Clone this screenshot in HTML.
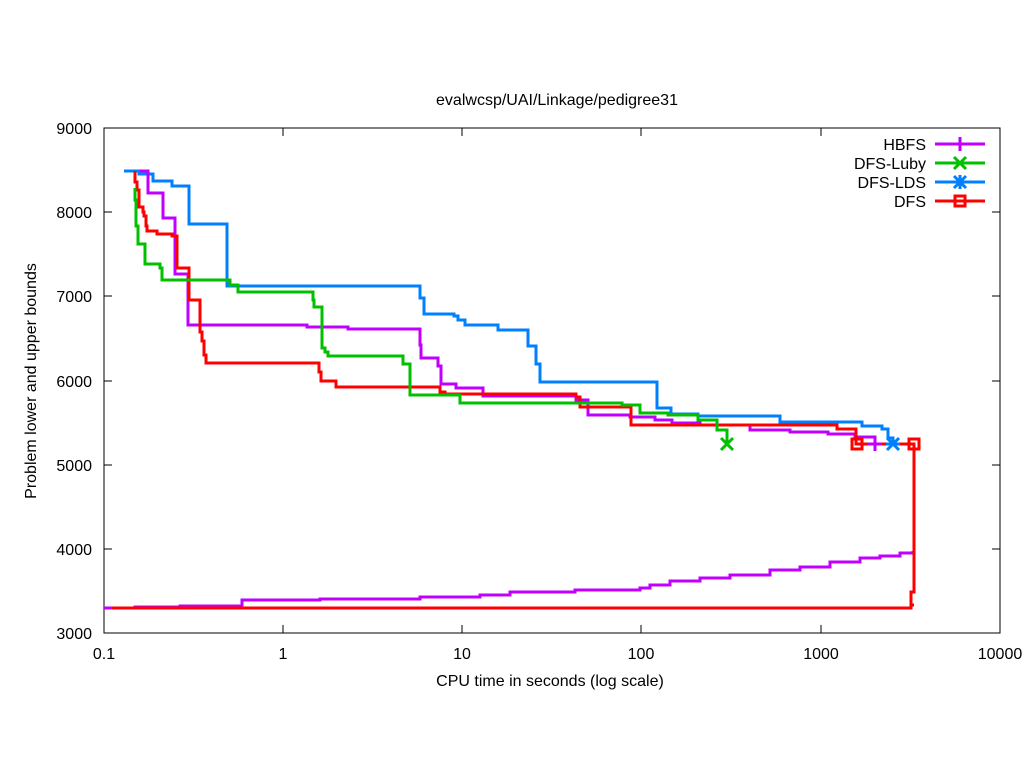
<!DOCTYPE html><html><head><style>body{margin:0;background:#fff}svg{display:block}text{font-family:"Liberation Sans",sans-serif;font-size:16px;fill:#000}</style></head><body>
<svg width="1024" height="768" viewBox="0 0 1024 768">
<text x="557" y="105" text-anchor="middle">evalwcsp/UAI/Linkage/pedigree31</text>
<g stroke="#000" stroke-width="1" fill="none">
<rect x="104" y="128" width="896" height="505"/>
<path d="M104,128h8M104,212h8M104,296h8M104,381h8M104,465h8M104,549h8M1000,128h-8M1000,212h-8M1000,296h-8M1000,381h-8M1000,465h-8M1000,549h-8
M283,633v-8M462,633v-8M641,633v-8M821,633v-8M283,128v8M462,128v8M641,128v8M821,128v8"/>
</g>
<g text-anchor="end"><text x="92" y="134">9000</text><text x="92" y="218">8000</text><text x="92" y="302">7000</text><text x="92" y="387">6000</text><text x="92" y="471">5000</text><text x="92" y="555">4000</text><text x="92" y="639">3000</text></g>
<g text-anchor="middle"><text x="104" y="659">0.1</text><text x="283" y="659">1</text><text x="462" y="659">10</text><text x="641" y="659">100</text><text x="821" y="659">1000</text><text x="1000" y="659">10000</text>
<text x="550" y="686">CPU time in seconds (log scale)</text>
<text x="0" y="0" transform="translate(36,381) rotate(-90)">Problem lower and upper bounds</text></g>
<g fill="none" stroke-width="3">
<path stroke="#0080ff" d="M124,171H139V174H153V181H172V186H189V224H227V286H420V298H424V314H454V316H458V320H465V325H498V330H528V346H536V364H540V382H657V408H671V414H698V416H780V422H862V426H882V429H888V438H893V444"/>
<path stroke="#c000ff" d="M140,171H148V193H163V218H175V274H188V325H307V327H348V329H420V345H421V358H438V366H441V384H456V388H483V396H576V400H588V415H630V417H655V420H672V423H700V425H750V430H790V432H828V434H855V437H875V444"/>
<path stroke="#c000ff" d="M104,608H135V607H180V606H242V600H320V599H420V597H480V595H510V592H575V590H640V588H650V585H670V581H700V578H730V575H770V570H800V567H830V562H860V558H880V556H900V553H913V551"/>
<path stroke="#ff0000" d="M135,171V182H137V190H139V207H143V212H144V216H146V226H147V231H157V234H172V236H177V268H189V300H200V332H202V341H204V355H206V363H319V372H321V381H336V387H440V392H445V394H576V397H580V407H631V425H837V429H856V444H914V592H911V605H914"/>
<path stroke="#ff0000" d="M112,608H911V605"/>
<path stroke="#00c000" d="M135,188V200H136V226H138V244H145V264H160V268H162V280H230V285H238V292H313V300H314V307H322V348H325V352H328V356H403V364H410V395H460V403H622V405H640V413H668V415H698V420H717V430H727V444"/>
<path stroke="#c000ff" d="M935,144h50M960,137v14"/>
<path stroke="#c000ff" d="M868,444h14M875,437v14"/>
<path stroke="#00c000" d="M935,163h50M954,157l12,12M954,169l12,-12"/>
<path stroke="#00c000" d="M721,438l12,12M721,450l12,-12"/>
<path stroke="#0080ff" d="M935,182h50M954,176l12,12M954,188l12,-12M953,182h14M960,175v14"/>
<path stroke="#0080ff" d="M887,438l12,12M887,450l12,-12M886,444h14"/>
<path stroke="#ff0000" d="M935,201h50"/>
<rect stroke="#ff0000" x="955" y="196" width="10" height="10"/>
<rect stroke="#ff0000" x="852" y="439" width="10" height="10"/>
<rect stroke="#ff0000" x="909" y="439" width="10" height="10"/>
</g>
<g text-anchor="end"><text x="926" y="150">HBFS</text><text x="926" y="169">DFS-Luby</text><text x="926" y="188">DFS-LDS</text><text x="926" y="207">DFS</text></g>
</svg></body></html>
